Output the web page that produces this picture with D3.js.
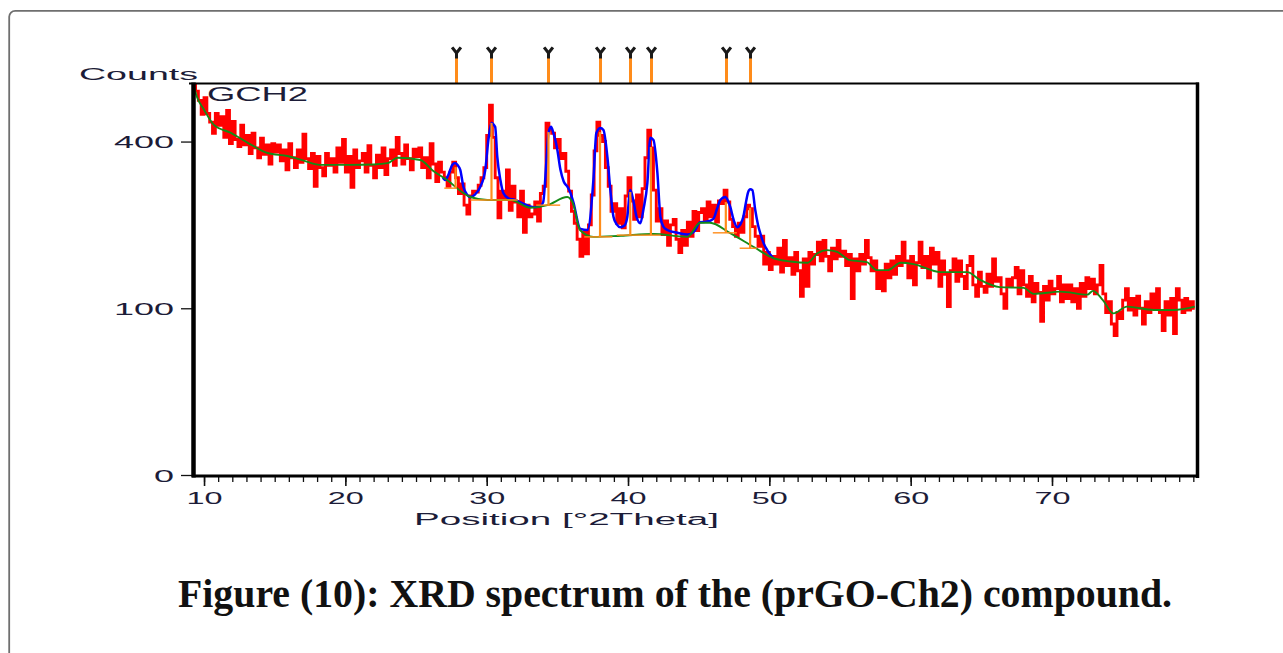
<!DOCTYPE html>
<html>
<head>
<meta charset="utf-8">
<script src="https://cdn.jsdelivr.net/npm/d3@7"></script>
<style>
  body { margin: 0; background: #fff; }
  svg { display: block; }
  .sans { font-family: "Liberation Sans", Arial, sans-serif; }
  .caption { font-family: "Liberation Serif", "Times New Roman", serif; font-weight: bold; }
</style>
</head>
<body>
<svg id="chart" width="1283" height="653"></svg>
<script>
// Scan definition: 2Theta start and step (degrees)
const scanStart = 9.3;
const scanStep = 0.2;

// Observed intensities (counts), one per step from 9.3 to 80.1 deg
const observedCounts = [
  548, 530, 505, 468, 512, 470, 448, 420, 470, 440,
  462, 410, 478, 395, 450, 405, 388, 440, 392, 415,
  372, 420, 385, 362, 408, 370, 392, 348, 395, 375,
  392, 355, 380, 335, 395, 362, 340, 380, 352, 418,
  360, 338, 372, 300, 365, 340, 322, 372, 345, 360,
  330, 385, 352, 405, 330, 365, 298, 380, 340, 355,
  372, 330, 390, 345, 318, 368, 340, 385, 325, 360,
  380, 345, 410, 372, 348, 392, 360, 335, 382, 365,
  385, 340, 362, 318, 395, 348, 310, 352, 330, 318,
  300, 330, 352, 318, 285, 305, 262, 245, 280, 290,
  288, 302, 318, 340, 415, 492, 410, 318, 238, 290,
  275, 335, 252, 300, 268, 240, 290, 212, 262, 240,
  245, 268, 232, 285, 300, 445, 428, 420, 385, 405,
  360, 372, 332, 290, 250, 228, 200, 172, 212, 176,
  225, 282, 378, 448, 415, 400, 340, 300, 250, 265,
  228, 255, 220, 280, 318, 270, 235, 282, 240, 295,
  362, 428, 385, 292, 232, 255, 208, 232, 190, 225,
  235, 200, 178, 215, 190, 230, 205, 250, 215, 248,
  255, 232, 268, 240, 262, 230, 270, 265, 292, 268,
  235, 222, 205, 228, 212, 240, 262, 255, 222, 205,
  188, 205, 160, 178, 152, 172, 160, 185, 148, 198,
  158, 170, 145, 178, 150, 115, 168, 128, 178, 160,
  175, 195, 165, 198, 172, 150, 185, 168, 198, 172,
  180, 158, 175, 112, 168, 150, 175, 160, 198, 170,
  150, 165, 125, 148, 122, 160, 140, 165, 145, 172,
  158, 195, 165, 140, 172, 130, 162, 195, 155, 172,
  140, 185, 160, 178, 128, 165, 145, 102, 150, 168,
  135, 165, 142, 125, 158, 172, 130, 115, 148, 128,
  120, 145, 128, 168, 135, 140, 118, 100, 138, 128,
  140, 155, 118, 150, 130, 115, 142, 108, 132, 120,
  85, 128, 110, 135, 118, 125, 142, 108, 130, 112,
  130, 108, 125, 100, 132, 115, 140, 125, 138, 118,
  130, 158, 118, 95, 108, 82, 70, 95, 88, 110,
  125, 98, 112, 92, 115, 100, 82, 108, 95, 118,
  100, 125, 95, 75, 108, 92, 112, 72, 125, 110,
  95, 112, 98, 108, 100
];

// Fitted background
const backgroundTheta = [
  9.3, 9.5, 10.0, 10.7, 11.9, 13.1, 14.5, 15.9, 17.0, 18.2,
  20.2, 22.0, 23.0, 23.7, 25.3, 26.2, 27.2, 28.35, 28.85, 30.05,
  31.7, 33.1, 34.3, 35.7, 36.1, 36.6, 37.55, 39.5, 41.8, 44.2,
  45.1, 45.8, 47.2, 48.9, 50.3, 51.5, 52.7, 53.4, 54.1, 54.8,
  55.7, 56.9, 57.6, 58.35, 59.3, 60.2, 62.1, 64.0, 64.9, 66.3,
  68.0, 68.7, 70.6, 72.5, 72.9, 73.6, 74.35, 75.3, 77.2, 78.6,
  80.1
];
const backgroundCounts = [
  540, 514, 480, 441, 421, 397, 373, 366, 356, 346,
  346, 347, 350, 362, 357, 333, 313, 286, 278, 272,
  272, 257, 262, 278, 266, 216, 204, 206, 209, 204,
  229, 229, 211, 187, 169, 164, 162, 177, 182, 179,
  166, 163, 151, 151, 162, 160, 148, 148, 137, 127,
  126, 118, 121, 117, 122, 110, 94, 102, 98, 98,
  102
];

// Calculated profile (background + fitted peaks)
const profileTheta = [
  26.9, 27.08, 27.3, 27.57, 27.78, 27.95, 28.13, 28.35, 28.6, 28.85,
  29.2, 29.55, 29.9, 30.12, 30.33, 30.6, 30.75, 30.97, 31.18, 31.5,
  32.0, 32.5, 33.0, 33.4, 33.8, 34.0, 34.23, 34.37, 34.55, 34.72,
  35.0, 35.22, 35.45, 35.71, 35.93, 36.13, 36.63, 37.13, 37.55, 37.76,
  38.04, 38.26, 38.54, 38.75, 38.97, 39.2, 39.46, 39.75, 39.95, 40.16,
  40.37, 40.6, 40.87, 41.1, 41.37, 41.58, 41.8, 42.08, 42.29, 42.5,
  42.78, 43.5, 44.2, 44.7, 45.1, 45.6, 46.04, 46.3, 46.53, 46.88,
  47.05, 47.24, 47.5, 47.73, 47.95, 48.16, 48.35, 48.5, 48.65, 48.8,
  49.0, 49.2, 49.35, 49.6, 49.85, 50.28
];
const profileCounts = [
  318, 313, 325, 346, 350, 345, 335, 299, 283, 278,
  284, 299, 335, 404, 446, 436, 364, 313, 286, 276,
  272, 266, 260, 258, 260, 268, 357, 421, 436, 421,
  380, 335, 310, 299, 286, 268, 218, 216, 313, 421,
  433, 428, 364, 292, 240, 226, 221, 224, 240, 292,
  272, 240, 228, 255, 307, 409, 404, 328, 240, 222,
  216, 211, 208, 214, 230, 231, 236, 255, 272, 278,
  272, 258, 232, 221, 226, 240, 268, 288, 294, 292,
  253, 225, 211, 193, 182, 169
];

// Peak list: position, top and base intensity, base line extent
const peakTheta = [27.8, 30.34, 34.37, 38.02, 40.16, 41.62, 46.92, 48.64];
const peakTop = [341, 446, 423, 423, 288, 387, 268, 257];
const peakBase = [296, 272, 262, 204, 207, 207, 211, 185];
const peakBaseFrom = [27.0, 28.85, 33.5, 36.9, 39.2, 40.9, 46.0, 47.9];
const peakBaseTo = [27.9, 32.2, 35.2, 38.9, 40.9, 42.3, 47.7, 49.1];

// Axis ticks
const xMajorTicks = [10, 20, 30, 40, 50, 60, 70];
const xMinorTicks = d3.range(10, 81, 1);
const yTicks = [0, 100, 400];

const ink = "#1c1c38";
const svg = d3.select("#chart");

// Page frame
svg.append("rect")
  .attr("x", 9.2).attr("y", 10.8)
  .attr("width", 1320).attr("height", 720)
  .attr("rx", 6).attr("ry", 6)
  .attr("fill", "none").attr("stroke", "#6f6f6f").attr("stroke-width", 1.8);

const plot = { left: 194, right: 1197, top: 84, bottom: 475 };
const x = d3.scaleLinear().domain([9.29, 80.26]).range([plot.left, plot.right]);
const y = d3.scaleSqrt().domain([0, 550]).range([plot.bottom, plot.top]);

svg.append("clipPath").attr("id", "plotClip")
  .append("rect")
  .attr("x", plot.left).attr("y", plot.top)
  .attr("width", plot.right - plot.left).attr("height", plot.bottom - plot.top);

const obs = observedCounts.map((c, i) => ({ t: scanStart + i * scanStep, c }));
const bg = backgroundTheta.map((t, i) => ({ t, c: backgroundCounts[i] }));
const prof = profileTheta.map((t, i) => ({ t, c: profileCounts[i] }));

const data = svg.append("g").attr("clip-path", "url(#plotClip)");

// Observed pattern
data.append("path")
  .datum(obs)
  .attr("fill", "none").attr("stroke", "#ff0000").attr("stroke-width", 2.9)
  .attr("d", d3.line().x(d => x(d.t)).y(d => y(d.c)).curve(d3.curveStep));

// Calculated profile
data.append("path")
  .datum(prof)
  .attr("fill", "none").attr("stroke", "#0000ff").attr("stroke-width", 2.5)
  .attr("d", d3.line().x(d => x(d.t)).y(d => y(d.c)).curve(d3.curveMonotoneX));

// Background
data.append("path")
  .datum(bg)
  .attr("fill", "none").attr("stroke", "#168a16").attr("stroke-width", 1.9)
  .attr("d", d3.line().x(d => x(d.t)).y(d => y(d.c)).curve(d3.curveMonotoneX));

// Peak sticks inside the plot
const orange = "#ff8c1a";
peakTheta.forEach((t, i) => {
  data.append("line")
    .attr("x1", x(peakBaseFrom[i])).attr("x2", x(peakBaseTo[i]))
    .attr("y1", y(peakBase[i])).attr("y2", y(peakBase[i]))
    .attr("stroke", orange).attr("stroke-width", 1.4);
  data.append("line")
    .attr("x1", x(t)).attr("x2", x(t))
    .attr("y1", y(peakBase[i])).attr("y2", y(peakTop[i]))
    .attr("stroke", orange).attr("stroke-width", 2.2);
});

// Peak position markers above the plot
const markers = svg.append("g");
peakTheta.forEach(t => {
  const px = Math.round(x(t)) + 0.5;
  markers.append("line")
    .attr("x1", px).attr("x2", px).attr("y1", 57).attr("y2", 84)
    .attr("stroke", orange).attr("stroke-width", 3);
  markers.append("path")
    .attr("transform", `translate(${px},57)`)
    .attr("d", "M-3.5,-8.5 L0,-4 L3.5,-8.5 M0,-4 V0")
    .attr("fill", "none").attr("stroke", "#1a1a1a").attr("stroke-width", 3)
    .attr("stroke-linecap", "square");
});

// X axis: minor then major ticks
const xMinor = svg.append("g").attr("transform", `translate(0,${plot.bottom + 2})`)
  .call(d3.axisBottom(x).tickValues(xMinorTicks.filter(v => v <= 80)).tickSize(5).tickFormat(""));
xMinor.select(".domain").remove();
xMinor.selectAll("line").attr("stroke", "#111").attr("stroke-width", 1.3);

const xMajor = svg.append("g").attr("transform", `translate(0,${plot.bottom + 2})`)
  .call(d3.axisBottom(x).tickValues(xMajorTicks).tickSize(9).tickFormat(d3.format("d")));
xMajor.select(".domain").remove();
xMajor.selectAll("line").attr("stroke", "#111").attr("stroke-width", 1.6);
xMajor.selectAll("text")
  .attr("class", "sans")
  .attr("y", 27).attr("dy", null)
  .attr("font-size", 16).attr("fill", ink)
  .attr("textLength", 36).attr("lengthAdjust", "spacingAndGlyphs");

// Y axis
const yAxis = svg.append("g").attr("transform", `translate(${plot.left - 2},0)`)
  .call(d3.axisLeft(y).tickValues(yTicks).tickSize(11).tickPadding(7).tickFormat(d3.format("d")));
yAxis.select(".domain").remove();
yAxis.selectAll("line").attr("stroke", "#111").attr("stroke-width", 1.3);
yAxis.selectAll("text")
  .attr("class", "sans")
  .attr("dy", "0.36em")
  .attr("font-size", 17).attr("fill", ink)
  .attr("textLength", d => String(d).length * 20)
  .attr("lengthAdjust", "spacingAndGlyphs");

// Plot frame
const frame = svg.append("g").attr("stroke", "#000").attr("fill", "none");
frame.append("line").attr("x1", 189).attr("x2", plot.right + 2)
  .attr("y1", 83.5).attr("y2", 83.5).attr("stroke-width", 2.2);
frame.append("line").attr("x1", plot.right + 0.5).attr("x2", plot.right + 0.5)
  .attr("y1", 82.5).attr("y2", plot.bottom + 3).attr("stroke-width", 3.5);
frame.append("line").attr("x1", plot.left - 2).attr("x2", plot.right + 2)
  .attr("y1", plot.bottom + 1).attr("y2", plot.bottom + 1).attr("stroke-width", 3);
frame.append("line").attr("x1", plot.left - 0.5).attr("x2", plot.left - 0.5)
  .attr("y1", 82.5).attr("y2", plot.bottom + 2.5).attr("stroke-width", 4.5);

// Labels
svg.append("text").attr("class", "sans").attr("x", 79).attr("y", 80)
  .attr("font-size", 17).attr("fill", ink)
  .attr("textLength", 119).attr("lengthAdjust", "spacingAndGlyphs")
  .text("Counts");

svg.append("text").attr("class", "sans").attr("x", 207).attr("y", 101)
  .attr("font-size", 20).attr("fill", ink)
  .attr("textLength", 101).attr("lengthAdjust", "spacingAndGlyphs")
  .text("GCH2");

svg.append("text").attr("class", "sans").attr("x", 414).attr("y", 525)
  .attr("font-size", 16).attr("fill", ink)
  .attr("textLength", 305).attr("lengthAdjust", "spacingAndGlyphs")
  .text("Position [°2Theta]");

svg.append("text").attr("class", "caption").attr("x", 178).attr("y", 607)
  .attr("font-size", 40).attr("fill", "#111")
  .attr("textLength", 994).attr("lengthAdjust", "spacingAndGlyphs")
  .text("Figure (10): XRD spectrum of the (prGO-Ch2) compound.");
</script>
</body>
</html>
